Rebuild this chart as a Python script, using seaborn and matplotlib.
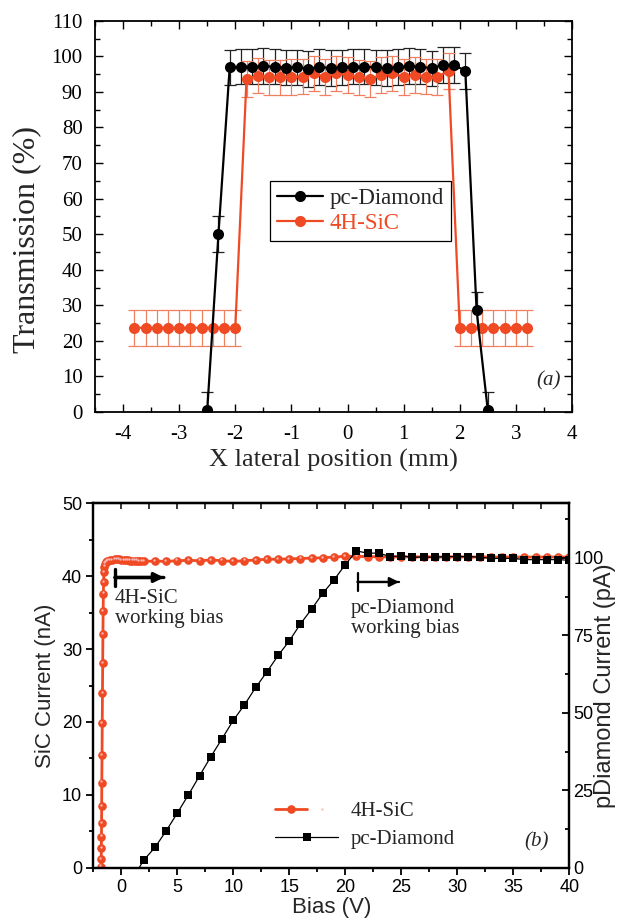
import numpy as np
import pandas as pd
import matplotlib
matplotlib.use("Agg")
import matplotlib.pyplot as plt
import matplotlib.transforms as mtransforms
from matplotlib.ticker import MultipleLocator
from matplotlib.lines import Line2D
from matplotlib.legend_handler import HandlerTuple
from matplotlib.patches import ArrowStyle
import seaborn as sns

# ---------------- Panel (a): transmission profile ----------------
pos_diamond = [-2.5, -2.3, -2.1, -1.9, -1.7, -1.5, -1.3, -1.1, -0.9, -0.7, -0.5, -0.3, -0.1,
               0.1, 0.3, 0.5, 0.7, 0.9, 1.1, 1.3, 1.5, 1.7, 1.9, 2.1, 2.3, 2.5]
trans_diamond = [0.5, 50.0, 96.9, 97.1, 97.1, 97.2, 97.1, 96.8, 96.9, 96.5, 97.0, 96.7, 96.9,
                 97.1, 97.1, 96.9, 96.7, 97.0, 97.2, 97.1, 96.6, 97.6, 97.6, 95.9, 28.7, 0.5]
err_diamond = [5.0, 5.0, 5.0, 5.0, 5.0, 5.0, 5.0, 5.0, 5.0, 5.0, 5.0, 5.0, 5.0,
               5.0, 5.0, 5.0, 5.0, 5.0, 5.0, 5.0, 5.0, 5.0, 5.0, 5.0, 5.0, 5.0]

pos_sic = [-3.8, -3.6, -3.4, -3.2, -3.0, -2.8, -2.6, -2.4, -2.2, -2.0,
           -1.8, -1.6, -1.4, -1.2, -1.0, -0.8, -0.6, -0.4, -0.2, 0.0,
           0.2, 0.4, 0.6, 0.8, 1.0, 1.2, 1.4, 1.6, 1.8,
           2.0, 2.2, 2.4, 2.6, 2.8, 3.0, 3.2]
trans_sic = [23.7, 23.7, 23.7, 23.7, 23.7, 23.7, 23.7, 23.7, 23.7, 23.7,
             93.6, 94.6, 94.1, 94.1, 94.2, 94.3, 95.2, 94.2, 95.2, 94.7,
             94.1, 93.6, 94.7, 95.2, 94.2, 94.7, 94.3, 94.2, 95.9,
             23.7, 23.7, 23.7, 23.7, 23.7, 23.7, 23.7]
err_sic = [5.0, 5.0, 5.0, 5.0, 5.0, 5.0, 5.0, 5.0, 5.0, 5.0,
           5.0, 5.0, 5.0, 5.0, 5.0, 5.0, 5.0, 5.0, 5.0, 5.0,
           5.0, 5.0, 5.0, 5.0, 5.0, 5.0, 5.0, 5.0, 5.0,
           5.0, 5.0, 5.0, 5.0, 5.0, 5.0, 5.0]

# ---------------- Panel (b): I-V curves ----------------
bias_sic = [-1.80, -1.79, -1.78, -1.77, -1.76, -1.75, -1.74, -1.72, -1.70, -1.68,
            -1.66, -1.64, -1.62, -1.60, -1.58,
            -1.55, -1.50, -1.45, -1.40, -1.30, -1.20, -1.00, -0.80, -0.60, -0.40,
            -0.20, 0.00, 0.20, 0.40, 0.60, 0.80, 1.00, 1.20, 1.40, 1.60, 1.80, 2.00,
            3, 4, 5, 6, 7, 8, 9, 10, 11, 12, 13, 14, 15, 16, 17, 18, 19, 20,
            21, 22, 23, 24, 25, 26, 27, 28, 29, 30, 31, 32, 33, 34, 35, 36, 37, 38, 39, 40]
current_sic = [0.2, 1.2, 2.7, 4.3, 6.1, 8.5, 11.7, 15.5, 19.8, 24.0,
               28.1, 32.0, 35.2, 37.6, 39.2,
               40.5, 41.3, 41.7, 41.9, 42.0, 42.1, 42.2, 42.2, 42.3, 42.3,
               42.3, 42.2, 42.2, 42.2, 42.2, 42.1, 42.1, 42.1, 42.1, 42.0, 42.0, 42.0,
               42.05, 42.0, 42.1, 42.15, 42.1, 42.2, 42.1, 42.0, 42.1, 42.2, 42.3, 42.3,
               42.35, 42.4, 42.45, 42.5, 42.6, 42.7,
               42.7, 42.65, 42.65, 42.6, 42.65, 42.6, 42.65, 42.6, 42.6, 42.65, 42.6,
               42.6, 42.6, 42.6, 42.6, 42.6, 42.6, 42.6, 42.6, 42.6]

bias_diamond = [1, 2, 3, 4, 5, 6, 7, 8, 9, 10, 11, 12, 13, 14, 15, 16, 17, 18, 19, 20,
                21, 22, 23, 24, 25, 26, 27, 28, 29, 30, 31, 32, 33, 34, 35, 36, 37, 38, 39, 40]
current_diamond = [-3.5, 2.5, 6.6, 11.9, 17.7, 23.6, 29.8, 35.9, 41.7, 47.6, 52.6, 58.2, 63.2,
                   68.5, 73.2, 78.7, 83.5, 88.6, 92.9, 97.8,
                   102.2, 101.5, 101.5, 100.4, 100.6, 100.2, 100.2, 100.2, 100.4, 100.4,
                   100.4, 100.2, 99.8, 99.8, 99.8, 99.4, 99.4, 99.4, 99.4, 99.2]

RED = "#ef4a24"
RED_ERR = "#f08060"

sns.set_theme(style="ticks")
plt.rcParams['font.family'] = ['Liberation Serif', 'DejaVu Serif']
plt.rcParams['mathtext.fontset'] = 'stix'
plt.rcParams['axes.unicode_minus'] = False

fig = plt.figure(figsize=(6.19, 9.22), dpi=100)
ax = fig.add_axes([0.1535, 0.5531, 0.924 - 0.1535, 0.9775 - 0.5531])

df_d = pd.DataFrame({"x": pos_diamond, "y": trans_diamond, "e": err_diamond})
df_s = pd.DataFrame({"x": pos_sic, "y": trans_sic, "e": err_sic})

ax.errorbar(df_d["x"], df_d["y"], yerr=df_d["e"], fmt="none", ecolor="#222222",
            elinewidth=0.9, capsize=4.5, capthick=0.9, zorder=2)
ax.errorbar(df_s["x"], df_s["y"], yerr=df_s["e"], fmt="none", ecolor=RED_ERR,
            elinewidth=0.9, capsize=4.5, capthick=0.9, zorder=2)
sns.lineplot(data=df_d, x="x", y="y", ax=ax, color="black", marker="o", markersize=8,
             markeredgewidth=0, linewidth=1.6, estimator=None, sort=False,
             label="pc-Diamond", zorder=4)
sns.lineplot(data=df_s, x="x", y="y", ax=ax, color=RED, marker="o", markersize=8,
             markeredgewidth=0, linewidth=1.6, estimator=None, sort=False,
             label="4H-SiC", zorder=3)

ax.set_xlim(-4.5, 4.0)
ax.set_ylim(0, 110)
ax.xaxis.set_major_locator(MultipleLocator(1))
ax.xaxis.set_minor_locator(MultipleLocator(0.5))
ax.yaxis.set_major_locator(MultipleLocator(10))
ax.yaxis.set_minor_locator(MultipleLocator(5))
ax.tick_params(which="both", direction="in", top=True, right=True, labelsize=15,
               width=1.0, colors="black")
ax.tick_params(axis="y", pad=9)
ax.tick_params(axis="x", pad=9)
ax.tick_params(which="major", length=6)
ax.tick_params(which="minor", length=3.5)
for s in ax.spines.values():
    s.set_linewidth(1.3)
    s.set_color("black")
ax.set_xlabel("X lateral position (mm)", fontsize=19, labelpad=4)
ax.set_ylabel("Transmission (%)", fontsize=23)
ax.yaxis.set_label_coords(-0.112, 0.44)
ax.text(0.95, 0.08, "(a)", transform=ax.transAxes, fontsize=15, fontstyle="italic",
        ha="center", va="center")
leg = ax.legend(loc="center", bbox_to_anchor=(0.557, 0.514), fontsize=16.5, frameon=True,
                fancybox=False, edgecolor="black", framealpha=1, handlelength=2.0,
                borderpad=0.3, labelspacing=0.2, handletextpad=0.3)
leg.get_frame().set_linewidth(0.9)
leg.texts[1].set_color(RED)

# ---------------- bottom panel ----------------
bx = fig.add_axes([0.1507, 0.0586, 0.9197 - 0.1507, 0.4544 - 0.0586])
bx2 = bx.twinx()
df_is = pd.DataFrame({"x": bias_sic, "y": current_sic})
df_id = pd.DataFrame({"x": bias_diamond, "y": current_diamond})

sns.lineplot(data=df_is, x="x", y="y", ax=bx, color=RED, marker="o", markersize=6.2,
             markeredgewidth=0, linewidth=2.0, estimator=None, sort=False, legend=False)
hl = mtransforms.offset_copy(bx.transData, fig=fig, x=-0.6, y=0.9, units="points")
sns.scatterplot(data=df_is, x="x", y="y", ax=bx, color="#f8b4b4", s=3, linewidth=0,
                transform=hl, legend=False, zorder=5)
sns.lineplot(data=df_id, x="x", y="y", ax=bx2, color="black", marker="s", markersize=5.6,
             markeredgewidth=0, linewidth=0.9, estimator=None, sort=False, legend=False)

bx.set_xlim(-2.5, 40)
bx.set_ylim(0, 50)
bx2.set_ylim(0, 100 * 50 / 42.5)
bx.xaxis.set_major_locator(MultipleLocator(5))
bx.xaxis.set_minor_locator(MultipleLocator(2.5))
bx.yaxis.set_major_locator(MultipleLocator(10))
bx.yaxis.set_minor_locator(MultipleLocator(5))
bx2.yaxis.set_major_locator(MultipleLocator(25))
bx2.yaxis.set_minor_locator(MultipleLocator(12.5))
sans = ['Liberation Sans', 'DejaVu Sans']
bx.tick_params(which="both", direction="out", top=False, labelsize=13, width=1.3,
               colors="black", pad=3)
bx.tick_params(which="major", length=5)
bx.tick_params(which="minor", length=3)
bx2.tick_params(which="both", direction="in", labelsize=13, width=1.3, colors="black", pad=3)
bx2.tick_params(which="major", length=5)
bx2.tick_params(which="minor", length=3)
sec = bx.secondary_xaxis("top")
sec.xaxis.set_major_locator(MultipleLocator(2.5))
sec.tick_params(direction="in", length=4, width=1.3, labeltop=False)
for lbl in bx.get_xticklabels() + bx.get_yticklabels() + bx2.get_yticklabels():
    lbl.set_family(sans)
for a in (bx, bx2):
    for s in a.spines.values():
        s.set_linewidth(1.6)
        s.set_color("black")
sec.spines["top"].set_linewidth(1.6)
bx.set_xlabel("Bias (V)", fontsize=16, family=sans, labelpad=1)
bx.set_ylabel("SiC Current (nA)", fontsize=16, family=sans, labelpad=4)
bx2.set_ylabel("pDiamond Current (pA)", fontsize=17, family=sans, rotation=90,
               va="center", ha="center")
bx2.yaxis.set_label_coords((605 - 93) / 476, 0.5)

bx.text(37.1, 3.6, "(b)", fontsize=15, fontstyle="italic", ha="center", va="center")
bx.text(-0.6, 38.2, "4H-SiC\nworking bias", fontsize=15, ha="left", va="top",
        linespacing=1.05)
bx.text(20.5, 36.8, "pc-Diamond\nworking bias", fontsize=15, ha="left", va="top",
        linespacing=1.05)


def bar_arrow(axis, x0, x1, y, lw):
    axis.annotate("", xy=(x1, y), xytext=(x0, y),
                  arrowprops=dict(arrowstyle="-|>", lw=lw, color="black",
                                  mutation_scale=14, shrinkA=0, shrinkB=0))
    axis.annotate("", xy=(x1, y), xytext=(x0, y),
                  arrowprops=dict(arrowstyle=ArrowStyle("|-|", widthA=0.45, widthB=0.0),
                                  lw=lw, color="black", mutation_scale=14,
                                  shrinkA=0, shrinkB=0))


bar_arrow(bx, -0.56, 3.8, 39.8, 2.4)
bar_arrow(bx2, 21.1, 24.8, 92.2, 1.6)

h_sic = (Line2D([], [], color=RED, lw=2.0, marker="o", markersize=6.2, markeredgewidth=0),
         Line2D([], [], color="none", marker="o", markersize=1.6, markerfacecolor="#f8b4b4",
                markeredgewidth=0))
h_dia = Line2D([], [], color="black", lw=0.9, marker="s", markersize=5.6, markeredgewidth=0)
bx2.legend([h_sic, h_dia], ["4H-SiC", "pc-Diamond"],
           handler_map={tuple: HandlerTuple(ndivide=None, pad=0)},
           loc="lower left", bbox_to_anchor=(0.343, 0.0), frameon=False, fontsize=15,
           handlelength=3.0, labelspacing=0.4, handletextpad=0.6)

fig.savefig("out.png", dpi=100)
